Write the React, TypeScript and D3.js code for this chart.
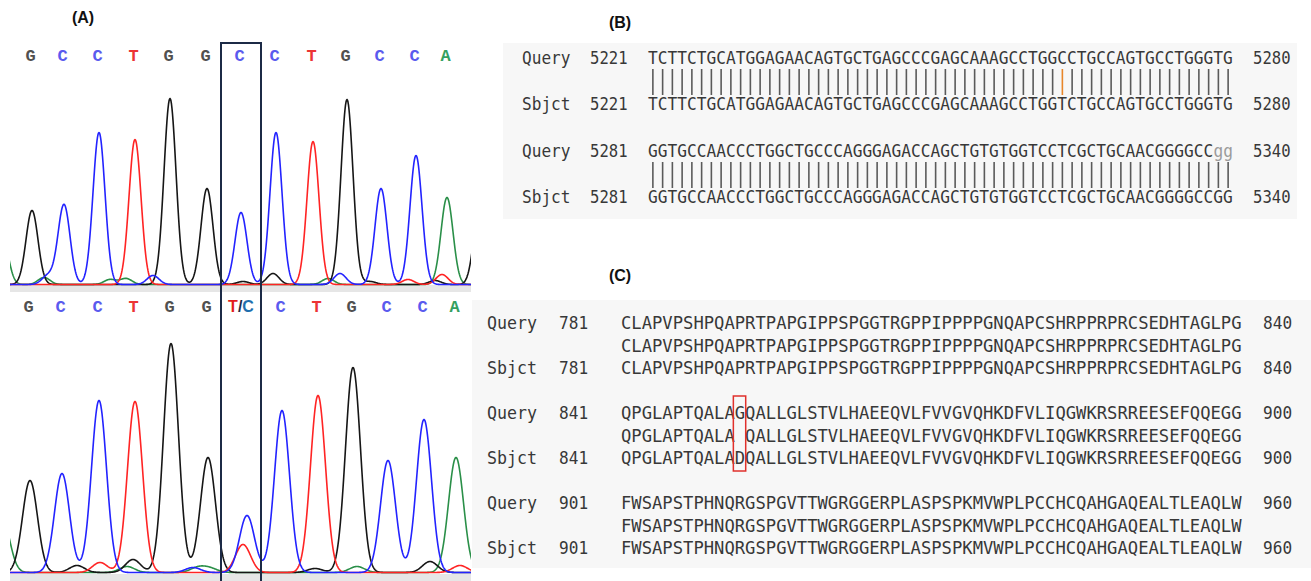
import React from "react";
import * as d3 from "d3";

const W = 1311;
const H = 581;

// ---------- Panel A : chromatogram data ----------
const topCalls = ["G", "C", "C", "T", "G", "G", "C", "C", "T", "G", "C", "C", "A"];
const topPeakScan = [22, 54, 89, 125, 160, 197, 231, 266, 303, 337, 371, 406, 437];
const topPeakHeight = [74, 80, 152, 145, 186, 96, 72, 152, 143, 185, 96, 129, 87];
const topMinorBase = ["A", "A", "C", "A", "A", "C", "G", "G", "A", "C", "G", "T", "G", "T", "G"];
const topMinorScan = [-8, 34, 38, 100, 116, 143, 233, 263, 318, 330, 360, 398, 425, 432, 470];
const topMinorHeight = [50, 7, 9, 5, 6, 9, 3, 11, 6, 11, 3, 5, 4, 10, 80];

const bottomCalls = ["G", "C", "C", "T", "G", "G", "T/C", "C", "T", "G", "C", "C", "A"];
const bottomPeakBase = ["G", "C", "C", "T", "G", "G", "C", "C", "T", "G", "C", "C", "A"];
const bottomPeakScan = [20, 52, 89, 125, 161, 198, 237, 272, 308, 343, 378, 414, 446];
const bottomPeakHeight = [92, 99, 172, 171, 229, 115, 57, 162, 177, 205, 112, 153, 115];
const bottomMinorBase = ["A", "G", "T", "G", "A", "A", "C", "A", "T", "G", "A", "G", "T"];
const bottomMinorScan = [-8, 67, 90, 123, 117, 188, 183, 200, 233, 305, 347, 420, 450];
const bottomMinorHeight = [55, 7, 10, 13, 6, 5, 5, 4, 28, 4, 6, 11, 7];

const highlightScan = [211, 251];

// ---------- Panel B : nucleotide alignment ----------
const bQuery = [
  "TCTTCTGCATGGAGAACAGTGCTGAGCCCGAGCAAAGCCTGGCCTGCCAGTGCCTGGGTG",
  "GGTGCCAACCCTGGCTGCCCAGGGAGACCAGCTGTGTGGTCCTCGCTGCAACGGGGCCgg",
];
const bSbjct = [
  "TCTTCTGCATGGAGAACAGTGCTGAGCCCGAGCAAAGCCTGGTCTGCCAGTGCCTGGGTG",
  "GGTGCCAACCCTGGCTGCCCAGGGAGACCAGCTGTGTGGTCCTCGCTGCAACGGGGCCGG",
];
const bStart = [5221, 5281];
const bEnd = [5280, 5340];

// ---------- Panel C : protein alignment ----------
const cQuery = [
  "CLAPVPSHPQAPRTPAPGIPPSPGGTRGPPIPPPPGNQAPCSHRPPRPRCSEDHTAGLPG",
  "QPGLAPTQALAGQALLGLSTVLHAEEQVLFVVGVQHKDFVLIQGWKRSRREESEFQQEGG",
  "FWSAPSTPHNQRGSPGVTTWGRGGERPLASPSPKMVWPLPCCHCQAHGAQEALTLEAQLW",
];
const cSbjct = [
  "CLAPVPSHPQAPRTPAPGIPPSPGGTRGPPIPPPPGNQAPCSHRPPRPRCSEDHTAGLPG",
  "QPGLAPTQALADQALLGLSTVLHAEEQVLFVVGVQHKDFVLIQGWKRSRREESEFQQEGG",
  "FWSAPSTPHNQRGSPGVTTWGRGGERPLASPSPKMVWPLPCCHCQAHGAQEALTLEAQLW",
];
const cStart = [781, 841, 901];
const cEnd = [840, 900, 960];

const traceColor: Record<string, string> = {
  A: "#2a8f48",
  C: "#2323ff",
  G: "#161616",
  T: "#ff2424",
};
const letterColor: Record<string, string> = {
  A: "#34a060",
  C: "#5a5aee",
  G: "#505050",
  T: "#ec3434",
};
const channelOrder = ["A", "G", "T", "C"];

const MONO = "'DejaVu Sans Mono', monospace";
const SANS = "'Liberation Sans', Arial, sans-serif";
const MONO_ADV = 0.602; // advance width of DejaVu Sans Mono per em
const CAP_SIZE = 18.5; // visual font size (vertical)

function buildTraces(
  mainBase: string[],
  mainScan: number[],
  mainHeight: number[],
  minBase: string[],
  minScan: number[],
  minHeight: number[],
  sigma: number
) {
  const peaks: { b: string; s: number; h: number }[] = [];
  mainBase.forEach((b, i) => peaks.push({ b, s: mainScan[i], h: mainHeight[i] }));
  minBase.forEach((b, i) => peaks.push({ b, s: minScan[i], h: minHeight[i] }));
  const samples = d3.range(-2, 464, 0.5);
  const out: Record<string, [number, number][]> = {};
  for (const ch of channelOrder) {
    const pk = peaks.filter((p) => p.b === ch);
    out[ch] = samples.map((s) => [
      s,
      pk.reduce((acc, p) => acc + p.h * Math.exp(-((s - p.s) ** 2) / (2 * sigma * sigma)), 0),
    ]);
  }
  return out;
}

function Chromatogram({
  top,
  baseline,
  domainMax,
  calls,
  base,
  scan,
  height,
  minBase,
  minScan,
  minHeight,
  sigma,
  letterY,
  stripY,
  id,
}: any) {
  const x = d3.scaleLinear().domain([0, 461]).range([10, 471]);
  const y = d3.scaleLinear().domain([0, domainMax]).range([baseline, top]);
  const traces = buildTraces(base, scan, height, minBase, minScan, minHeight, sigma);
  const line = d3
    .line<[number, number]>()
    .x((d) => x(d[0]))
    .y((d) => y(d[1]) + 0.5);
  return (
    <g>
      <defs>
        <clipPath id={id}>
          <rect x={10} y={top - 2} width={461} height={baseline - top + 4} />
        </clipPath>
      </defs>
      <rect x={10} y={stripY} width={461} height={7} fill="#e6e6e6" />
      <g clipPath={`url(#${id})`}>
        {channelOrder.map((ch) => (
          <path
            key={ch}
            d={line(traces[ch]) || ""}
            fill="none"
            stroke={traceColor[ch]}
            strokeWidth={1.6}
            strokeLinejoin="round"
          />
        ))}
      </g>
      {calls.map((c: string, i: number) =>
        c === "T/C" ? (
          <text
            key={i}
            x={x((highlightScan[0] + highlightScan[1]) / 2)}
            y={letterY}
            textAnchor="middle"
            fontFamily={SANS}
            fontWeight="bold"
            fontSize={16}
          >
            <tspan fill="#e21c1c">T</tspan>
            <tspan fill="#1d2b48">/</tspan>
            <tspan fill="#1f6fae">C</tspan>
          </text>
        ) : (
          <text
            key={i}
            x={x(scan[i]) - 1.5}
            y={letterY}
            textAnchor="middle"
            fontFamily="'Liberation Mono', 'Courier New', monospace"
            fontWeight="bold"
            fontSize={17}
            fill={letterColor[c]}
          >
            {c}
          </text>
        )
      )}
    </g>
  );
}

// Monospace text whose advance equals cw, stretched vertically to the reference's tall narrow glyphs
function MonoText({ x, y, s, cw, fill }: any) {
  const fs = cw / MONO_ADV;
  const sy = CAP_SIZE / fs;
  return (
    <text
      transform={`translate(${x},${y}) scale(1,${sy.toFixed(4)})`}
      x={0}
      y={0}
      fontFamily={MONO}
      fontSize={fs}
      fill={fill}
      style={{ whiteSpace: "pre" }}
    >
      {s}
    </text>
  );
}

function PanelB() {
  const cw = 9.75;
  const seqX = d3.scaleLinear().domain([0, 60]).range([648, 648 + 60 * cw]);
  const col = "#383838";
  return (
    <g>
      <rect x={503} y={43} width={794} height={176} fill="#f7f7f7" />
      {bQuery.map((q, k) => {
        const yQ = 64 + k * 93;
        const yS = yQ + 46;
        const s = bSbjct[k];
        const upper = q.replace(/[a-z]+$/, "");
        const lower = q.slice(upper.length);
        return (
          <g key={k}>
            <MonoText x={522} y={yQ} s="Query" cw={9.7} fill={col} />
            <MonoText x={590} y={yQ} s={String(bStart[k])} cw={9.4} fill={col} />
            <MonoText x={seqX(0)} y={yQ} s={upper} cw={cw} fill={col} />
            {lower && <MonoText x={seqX(upper.length)} y={yQ} s={lower} cw={cw} fill="#9c9c9c" />}
            <MonoText x={1253} y={yQ} s={String(bEnd[k])} cw={9.4} fill={col} />
            {q.split("").map((ch, i) => {
              const match = ch.toUpperCase() === s[i].toUpperCase();
              const cx = seqX(i) + cw / 2;
              return (
                <line
                  key={i}
                  x1={cx}
                  x2={cx}
                  y1={yQ + 5}
                  y2={yQ + 31}
                  stroke={match ? "#5a5a5a" : "#e8862a"}
                  strokeWidth={1.6}
                />
              );
            })}
            <MonoText x={522} y={yS} s="Sbjct" cw={9.7} fill={col} />
            <MonoText x={590} y={yS} s={String(bStart[k])} cw={9.4} fill={col} />
            <MonoText x={seqX(0)} y={yS} s={s} cw={cw} fill={col} />
            <MonoText x={1253} y={yS} s={String(bEnd[k])} cw={9.4} fill={col} />
          </g>
        );
      })}
    </g>
  );
}

function PanelC() {
  const cw = 10.35;
  const seqX = d3.scaleLinear().domain([0, 60]).range([621, 621 + 60 * cw]);
  const col = "#383838";
  return (
    <g>
      <rect x={472} y={300} width={839} height={268} fill="#f7f7f7" />
      {cQuery.map((q, k) => {
        const yQ = 329 + k * 90;
        const yM = yQ + 22.5;
        const yS = yQ + 45;
        const s = cSbjct[k];
        const mid = q
          .split("")
          .map((ch, i) => (ch === s[i] ? ch : " "))
          .join("");
        const mism = q
          .split("")
          .map((ch, i) => (ch === s[i] ? -1 : i))
          .filter((i) => i >= 0);
        return (
          <g key={k}>
            <MonoText x={487} y={yQ} s="Query" cw={10} fill={col} />
            <MonoText x={559} y={yQ} s={String(cStart[k])} cw={9.7} fill={col} />
            <MonoText x={seqX(0)} y={yQ} s={q} cw={cw} fill={col} />
            <MonoText x={1263} y={yQ} s={String(cEnd[k])} cw={9.7} fill={col} />
            <MonoText x={seqX(0)} y={yM} s={mid} cw={cw} fill={col} />
            <MonoText x={487} y={yS} s="Sbjct" cw={10} fill={col} />
            <MonoText x={559} y={yS} s={String(cStart[k])} cw={9.7} fill={col} />
            <MonoText x={seqX(0)} y={yS} s={s} cw={cw} fill={col} />
            <MonoText x={1263} y={yS} s={String(cEnd[k])} cw={9.7} fill={col} />
            {mism.map((i) => (
              <rect
                key={i}
                x={seqX(i) - 1.5}
                y={yQ - 23}
                width={cw + 2}
                height={yS - yQ + 30}
                fill="none"
                stroke="#e0302c"
                strokeWidth={1.5}
              />
            ))}
          </g>
        );
      })}
    </g>
  );
}

export default function App() {
  const xs = d3.scaleLinear().domain([0, 461]).range([10, 471]);
  return (
    <svg
      width={W}
      height={H}
      viewBox={`0 0 ${W} ${H}`}
      style={{ position: "absolute", left: 0, top: 0, background: "#ffffff" }}
    >
      <rect x={0} y={0} width={W} height={H} fill="#ffffff" />
      <Chromatogram
        id="clipTop"
        top={43}
        baseline={284}
        domainMax={241}
        calls={topCalls}
        base={topCalls}
        scan={topPeakScan}
        height={topPeakHeight}
        minBase={topMinorBase}
        minScan={topMinorScan}
        minHeight={topMinorHeight}
        sigma={6}
        letterY={61}
        stripY={285}
      />
      <Chromatogram
        id="clipBottom"
        top={290}
        baseline={572}
        domainMax={282}
        calls={bottomCalls}
        base={bottomPeakBase}
        scan={bottomPeakScan}
        height={bottomPeakHeight}
        minBase={bottomMinorBase}
        minScan={bottomMinorScan}
        minHeight={bottomMinorHeight}
        sigma={7.5}
        letterY={312}
        stripY={574}
      />
      <path
        d={`M${xs(highlightScan[0])},${H} V43 H${xs(highlightScan[1])} V${H}`}
        fill="none"
        stroke="#1c2a46"
        strokeWidth={2}
      />
      <text x={83} y={23} textAnchor="middle" fontFamily={SANS} fontWeight="bold" fontSize={16} fill="#111">
        (A)
      </text>
      <PanelB />
      <text x={620} y={28} textAnchor="middle" fontFamily={SANS} fontWeight="bold" fontSize={16} fill="#111">
        (B)
      </text>
      <PanelC />
      <text x={620} y={281} textAnchor="middle" fontFamily={SANS} fontWeight="bold" fontSize={16} fill="#111">
        (C)
      </text>
    </svg>
  );
}
